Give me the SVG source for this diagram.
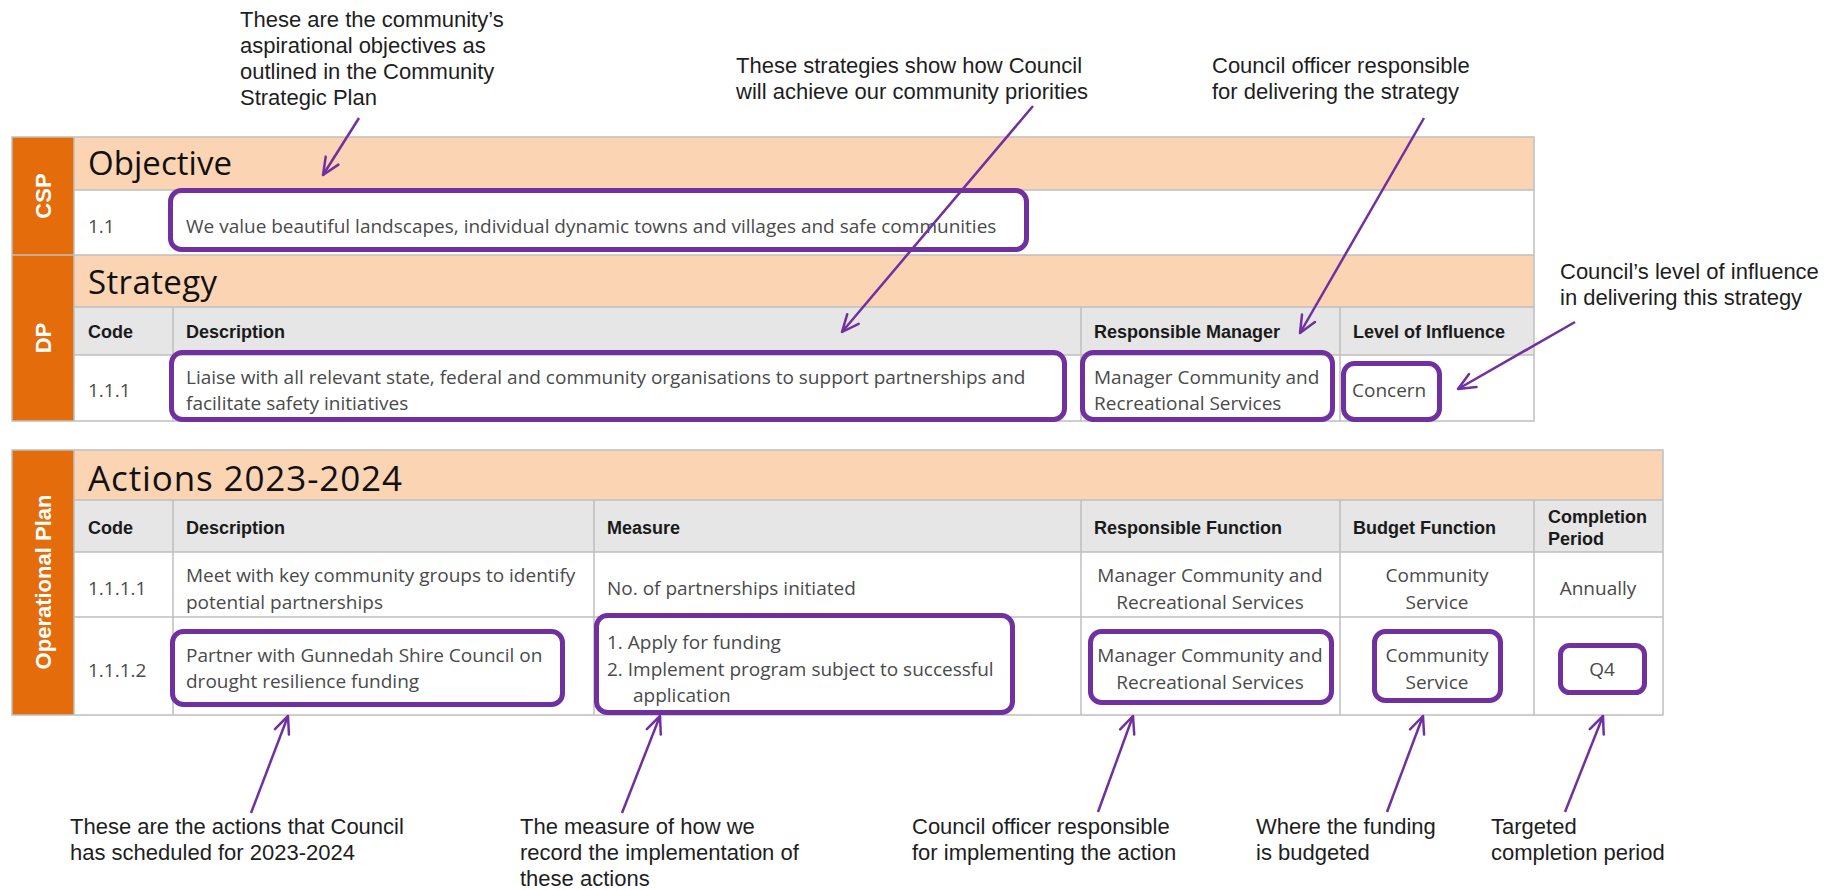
<svg xmlns="http://www.w3.org/2000/svg" width="1843" height="890" viewBox="0 0 1843 890">
<defs>
<style>
.bg{fill:#ffffff}
.side{fill:#e46c0a}
.pe{fill:#fbd4b4}
.gr{fill:#e6e6e6}
.wh{fill:#ffffff}
.ln{stroke:#bfbfbf;stroke-width:1.5;fill:none}
.hl{fill:none;stroke:#7030a0;stroke-width:5}
.h1{font-family:"Open Sans","Noto Sans",sans-serif;font-size:33px;fill:#111111}
.th{font-family:"Liberation Sans",Arial,sans-serif;font-weight:bold;font-size:18px;fill:#1a1a1a}
.td{font-family:"Open Sans","Noto Sans",sans-serif;font-size:19px;fill:#4a4a4a}
.mid{text-anchor:middle}
.sd{font-family:"Liberation Sans",Arial,sans-serif;font-weight:bold;font-size:22px;fill:#ffffff;text-anchor:middle;dominant-baseline:central}
.an{font-family:"Liberation Sans",Arial,sans-serif;font-size:22px;fill:#1e1e1e}
.ar{fill:none;stroke:#7030a0;stroke-width:2.5;marker-end:url(#ah)}
</style>
<marker id="ah" viewBox="-20 -10 22 20" refX="0" refY="0" markerWidth="22" markerHeight="20" markerUnits="userSpaceOnUse" orient="auto">
<path d="M-17,-7.5 L0,0 L-17,7.5" fill="none" stroke="#7030a0" stroke-width="2.5" stroke-linecap="round" stroke-linejoin="round"/>
</marker>
</defs>
<rect class="bg" x="0" y="0" width="1843" height="890"/>

<g id="strategy-table">
<rect class="side" x="12" y="137" width="62" height="284"/>
<rect class="pe" x="74" y="137" width="1460" height="53"/>
<rect class="wh" x="74" y="190" width="1460" height="65"/>
<rect class="pe" x="74" y="255" width="1460" height="52"/>
<rect class="gr" x="74" y="307" width="1460" height="48"/>
<rect class="wh" x="74" y="355" width="1460" height="66"/>
<path class="ln" d="M74,190H1534M12,255H1534M74,307H1534M74,355H1534M74,137V421M173,307V421M1081,307V421M1340,307V421"/>
<rect class="ln" x="12" y="137" width="1522" height="284"/>
<text class="sd" transform="translate(43,196) rotate(-90)">CSP</text>
<text class="sd" transform="translate(43,338) rotate(-90)">DP</text>
<text class="h1" x="88" y="175" textLength="144" lengthAdjust="spacing">Objective</text>
<text class="td" x="88" y="233">1.1</text>
<text class="td" x="186" y="233">We value beautiful landscapes, individual dynamic towns and villages and safe communities</text>
<text class="h1" x="88" y="294" textLength="129" lengthAdjust="spacing">Strategy</text>
<text class="th" x="88" y="338">Code</text>
<text class="th" x="186" y="338">Description</text>
<text class="th" x="1094" y="338">Responsible Manager</text>
<text class="th" x="1353" y="338">Level of Influence</text>
<text class="td" x="88" y="397">1.1.1</text>
<text class="td" x="186" y="384">Liaise with all relevant state, federal and community organisations to support partnerships and</text>
<text class="td" x="186" y="410">facilitate safety initiatives</text>
<text class="td" x="1094" y="384">Manager Community and</text>
<text class="td" x="1094" y="410">Recreational Services</text>
<text class="td" x="1352" y="397">Concern</text>
</g>

<g id="operational-table">
<rect class="side" x="12" y="450" width="62" height="265"/>
<rect class="pe" x="74" y="450" width="1589" height="50"/>
<rect class="gr" x="74" y="500" width="1589" height="52"/>
<rect class="wh" x="74" y="552" width="1589" height="163"/>
<path class="ln" d="M74,500H1663M74,552H1663M74,617H1663M74,450V715M173,500V715M594,500V715M1081,500V715M1340,500V715M1534,500V715"/>
<rect class="ln" x="12" y="450" width="1651" height="265"/>
<text class="sd" transform="translate(43,582) rotate(-90)">Operational Plan</text>
<text class="h1" x="88" y="491" style="font-size:35px" textLength="314" lengthAdjust="spacing">Actions 2023-2024</text>
<text class="th" x="88" y="534">Code</text>
<text class="th" x="186" y="534">Description</text>
<text class="th" x="607" y="534">Measure</text>
<text class="th" x="1094" y="534">Responsible Function</text>
<text class="th" x="1353" y="534">Budget Function</text>
<text class="th" x="1548" y="523">Completion</text>
<text class="th" x="1548" y="545">Period</text>
<text class="td" x="88" y="595">1.1.1.1</text>
<text class="td" x="186" y="582">Meet with key community groups to identify</text>
<text class="td" x="186" y="609">potential partnerships</text>
<text class="td" x="607" y="595">No. of partnerships initiated</text>
<text class="td mid" x="1210" y="582">Manager Community and</text>
<text class="td mid" x="1210" y="609">Recreational Services</text>
<text class="td mid" x="1437" y="582">Community</text>
<text class="td mid" x="1437" y="609">Service</text>
<text class="td mid" x="1598" y="595">Annually</text>
<text class="td" x="88" y="677">1.1.1.2</text>
<text class="td" x="186" y="662">Partner with Gunnedah Shire Council on</text>
<text class="td" x="186" y="688">drought resilience funding</text>
<text class="td" x="607" y="649">1. Apply for funding</text>
<text class="td" x="607" y="676">2. Implement program subject to successful</text>
<text class="td" x="633" y="702">application</text>
<text class="td mid" x="1210" y="662">Manager Community and</text>
<text class="td mid" x="1210" y="689">Recreational Services</text>
<text class="td mid" x="1437" y="662">Community</text>
<text class="td mid" x="1437" y="689">Service</text>
<text class="td mid" x="1602" y="676">Q4</text>
</g>

<g id="highlight-objective"><rect class="hl" x="170.5" y="190.5" width="856" height="59" rx="11"/></g>
<g id="highlight-strategy"><rect class="hl" x="171.5" y="352.5" width="893" height="67" rx="11"/></g>
<g id="highlight-manager"><rect class="hl" x="1082.5" y="352.5" width="250" height="67" rx="11"/></g>
<g id="highlight-influence"><rect class="hl" x="1343.5" y="363.5" width="96" height="56" rx="11"/></g>
<g id="highlight-action"><rect class="hl" x="172.5" y="631.5" width="390" height="73" rx="11"/></g>
<g id="highlight-measure"><rect class="hl" x="596.5" y="615.5" width="416" height="97" rx="11"/></g>
<g id="highlight-function"><rect class="hl" x="1090.5" y="631.5" width="241" height="71" rx="11"/></g>
<g id="highlight-budget"><rect class="hl" x="1374.5" y="631.5" width="126" height="69" rx="11"/></g>
<g id="highlight-period"><rect class="hl" x="1560.5" y="645.5" width="84" height="47" rx="9"/></g>

<g id="note-objectives">
<text class="an" x="240" y="27">These are the community’s</text>
<text class="an" x="240" y="53">aspirational objectives as</text>
<text class="an" x="240" y="79">outlined in the Community</text>
<text class="an" x="240" y="105">Strategic Plan</text>
</g>
<g id="note-strategies">
<text class="an" x="736" y="73">These strategies show how Council</text>
<text class="an" x="736" y="99">will achieve our community priorities</text>
</g>
<g id="note-manager">
<text class="an" x="1212" y="73">Council officer responsible</text>
<text class="an" x="1212" y="99">for delivering the strategy</text>
</g>
<g id="note-influence">
<text class="an" x="1560" y="279">Council’s level of influence</text>
<text class="an" x="1560" y="305">in delivering this strategy</text>
</g>
<g id="note-actions">
<text class="an" x="70" y="834">These are the actions that Council</text>
<text class="an" x="70" y="860">has scheduled for 2023-2024</text>
</g>
<g id="note-measure">
<text class="an" x="520" y="834">The measure of how we</text>
<text class="an" x="520" y="860">record the implementation of</text>
<text class="an" x="520" y="886">these actions</text>
</g>
<g id="note-function">
<text class="an" x="912" y="834">Council officer responsible</text>
<text class="an" x="912" y="860">for implementing the action</text>
</g>
<g id="note-budget">
<text class="an" x="1256" y="834">Where the funding</text>
<text class="an" x="1256" y="860">is budgeted</text>
</g>
<g id="note-period">
<text class="an" x="1491" y="834">Targeted</text>
<text class="an" x="1491" y="860">completion period</text>
</g>

<g id="connectors">
<path class="ar" d="M359,118L323,175"/>
<path class="ar" d="M1033,106L842,332"/>
<path class="ar" d="M1424,118L1300,333"/>
<path class="ar" d="M1575,322L1458,389"/>
<path class="ar" d="M251,813L288,716"/>
<path class="ar" d="M622,813L660,716"/>
<path class="ar" d="M1098,812L1133,716"/>
<path class="ar" d="M1387,812L1423,716"/>
<path class="ar" d="M1565,812L1603,716"/>
</g>
</svg>
